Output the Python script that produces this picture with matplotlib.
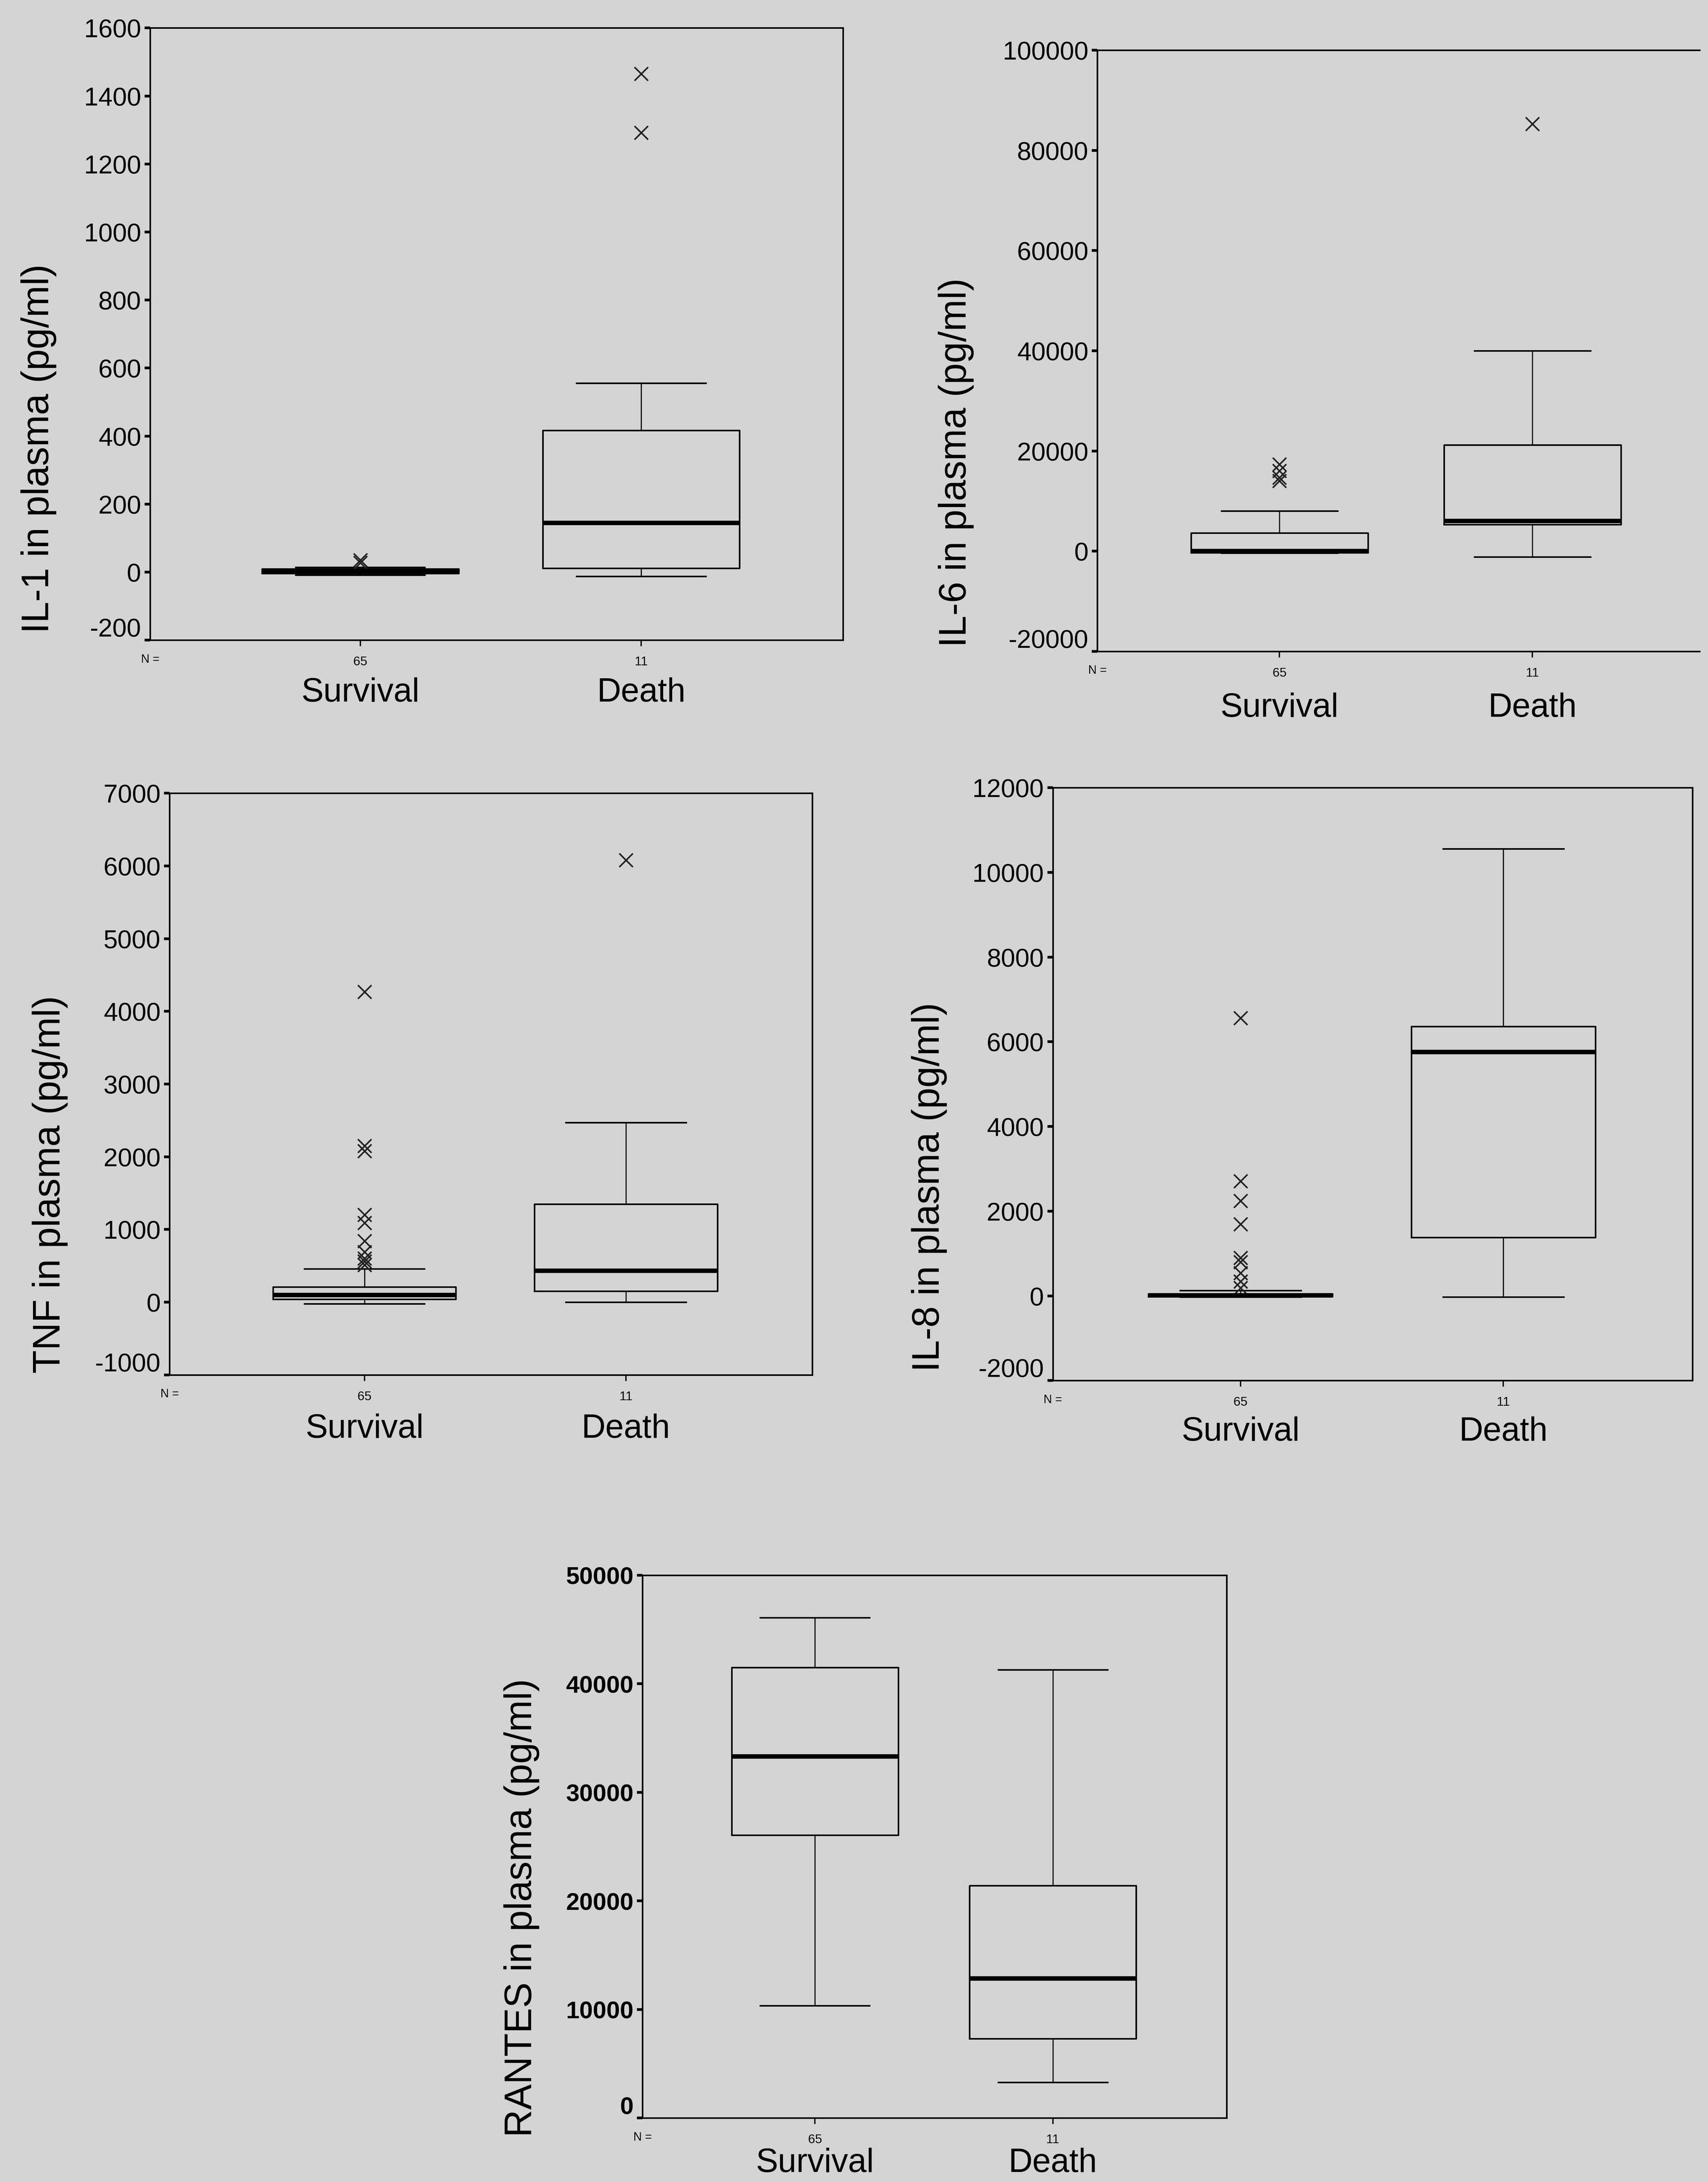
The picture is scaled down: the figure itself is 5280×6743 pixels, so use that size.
import matplotlib.pyplot as plt
from matplotlib.transforms import offset_copy

plt.rcParams['font.family'] = ['Liberation Sans', 'DejaVu Sans']
plt.rcParams['axes.unicode_minus'] = False

BG = '#d4d4d4'

groups = ['Survival', 'Death']
group_n = ['65', '11']

# summary values, [Survival, Death]
il1_q1 = [-4, 12]
il1_med = [3, 145]
il1_q3 = [10, 417]
il1_lo = [-8, -12]
il1_hi = [14, 556]
il1_out = [[35, 28], [1465, 1292]]

il6_q1 = [-300, 5300]
il6_med = [0, 6000]
il6_q3 = [3600, 21200]
il6_lo = [-350, -1150]
il6_hi = [8000, 40000]
il6_out = [[17300, 16000, 14700, 14000], [85300]]

tnf_q1 = [40, 150]
tnf_med = [100, 430]
tnf_q3 = [210, 1350]
tnf_lo = [-20, 0]
tnf_hi = [460, 2470]
tnf_out = [[4270, 2150, 2080, 1200, 1090, 840, 690, 600, 560, 510], [6080]]

il8_q1 = [-20, 1380]
il8_med = [15, 5760]
il8_q3 = [50, 6360]
il8_lo = [-30, -30]
il8_hi = [130, 10560]
il8_out = [[6560, 2710, 2240, 1690, 900, 800, 540, 340, 190], []]

rantes_q1 = [26050, 7300]
rantes_med = [33300, 12850]
rantes_q3 = [41500, 21400]
rantes_lo = [10350, 3300]
rantes_hi = [46100, 41300]
rantes_out = [[], []]

il1_ticks = list(range(-200, 1601, 200))
il6_ticks = list(range(-20000, 100001, 20000))
tnf_ticks = list(range(-1000, 7001, 1000))
il8_ticks = list(range(-2000, 12001, 2000))
rantes_ticks = list(range(0, 50001, 10000))


def make_stats(q1, med, q3, lo, hi, out):
    return [dict(q1=q1[i], med=med[i], q3=q3[i], whislo=lo[i], whishi=hi[i],
                 fliers=out[i], label=groups[i]) for i in range(len(groups))]


fig = plt.figure(figsize=(52.8, 67.43), dpi=100, facecolor=BG)

panels = [
    # rect, xlim, ylabel, label pos, category label offset (px), ticks, stats
    ([0.0879, 0.7066, 0.4056, 0.2806], (0.252, 2.718), 'IL-1 in plasma (pg/ml)', (-0.161, 0.313), 163,
     il1_ticks, make_stats(il1_q1, il1_med, il1_q3, il1_lo, il1_hi, il1_out)),
    ([0.6425, 0.7015, 0.3525, 0.2755], (0.28, 2.66), 'IL-6 in plasma (pg/ml)', (-0.235, 0.314), 176,
     il6_ticks, make_stats(il6_q1, il6_med, il6_q3, il6_lo, il6_hi, il6_out)),
    ([0.0993, 0.3699, 0.3763, 0.2666], (0.255, 2.713), 'TNF in plasma (pg/ml)', (-0.186, 0.327), 168,
     tnf_ticks, make_stats(tnf_q1, tnf_med, tnf_q3, tnf_lo, tnf_hi, tnf_out)),
    ([0.6164, 0.3673, 0.3746, 0.2717], (0.286, 2.72), 'IL-8 in plasma (pg/ml)', (-0.193, 0.326), 159,
     il8_ticks, make_stats(il8_q1, il8_med, il8_q3, il8_lo, il8_hi, il8_out)),
    ([0.3762, 0.0293, 0.3420, 0.2488], (0.275, 2.731), 'RANTES in plasma (pg/ml)', (-0.207, 0.387), 140,
     rantes_ticks, make_stats(rantes_q1, rantes_med, rantes_q3, rantes_lo, rantes_hi, rantes_out)),
]

for k, (rect, xlim, ylab, labpos, catoff, ticks, stats) in enumerate(panels):
    ax = fig.add_axes(rect, facecolor=BG)
    ax.bxp(stats, positions=[1, 2], widths=0.7, capwidths=0.46, showfliers=True,
           boxprops=dict(color='black', linewidth=3.5),
           medianprops=dict(color='black', linewidth=10, solid_capstyle='butt'),
           whiskerprops=dict(color='black', linewidth=2.5),
           capprops=dict(color='black', linewidth=3.5),
           flierprops=dict(marker='x', markersize=30, markeredgewidth=3.5,
                           markeredgecolor='#222222', linestyle='none'))
    ax.set_xlim(*xlim)
    ax.set_ylim(ticks[0], ticks[-1])
    ax.set_yticks(ticks)
    ax.set_yticklabels([str(t) for t in ticks])
    ax.set_xticks([1, 2])
    ax.set_xticklabels(group_n, fontsize=28)
    ax.tick_params(axis='y', direction='out', length=12, width=6, labelsize=57, pad=8)
    ax.tick_params(axis='x', direction='out', length=14, width=3, pad=22)
    if k == 4:
        for t in ax.get_yticklabels():
            t.set_fontweight('bold')
            t.set_fontsize(54)
    # lowest y label sits slightly above the bottom axis
    low = ax.get_yticklabels()[0]
    low.set_transform(offset_copy(low.get_transform(), fig=fig, x=0, y=40, units='dots'))
    for s in ax.spines.values():
        s.set_linewidth(3.5)
    if k == 1:
        ax.spines['right'].set_visible(False)
    ax.set_ylabel(ylab, fontsize=85, va='center')
    ax.yaxis.set_label_coords(*labpos)
    ax.annotate('N =', xy=(xlim[0], 0), xycoords=('data', 'axes fraction'),
                xytext=(0, -60), textcoords='offset pixels', ha='center', va='center', fontsize=26)
    for i, g in enumerate(groups):
        ax.annotate(g, xy=(i + 1, 0), xycoords=('data', 'axes fraction'),
                    xytext=(0, -catoff), textcoords='offset pixels', ha='center', va='center',
                    fontsize=74)

fig.savefig('out.png', dpi=100, facecolor=BG)
